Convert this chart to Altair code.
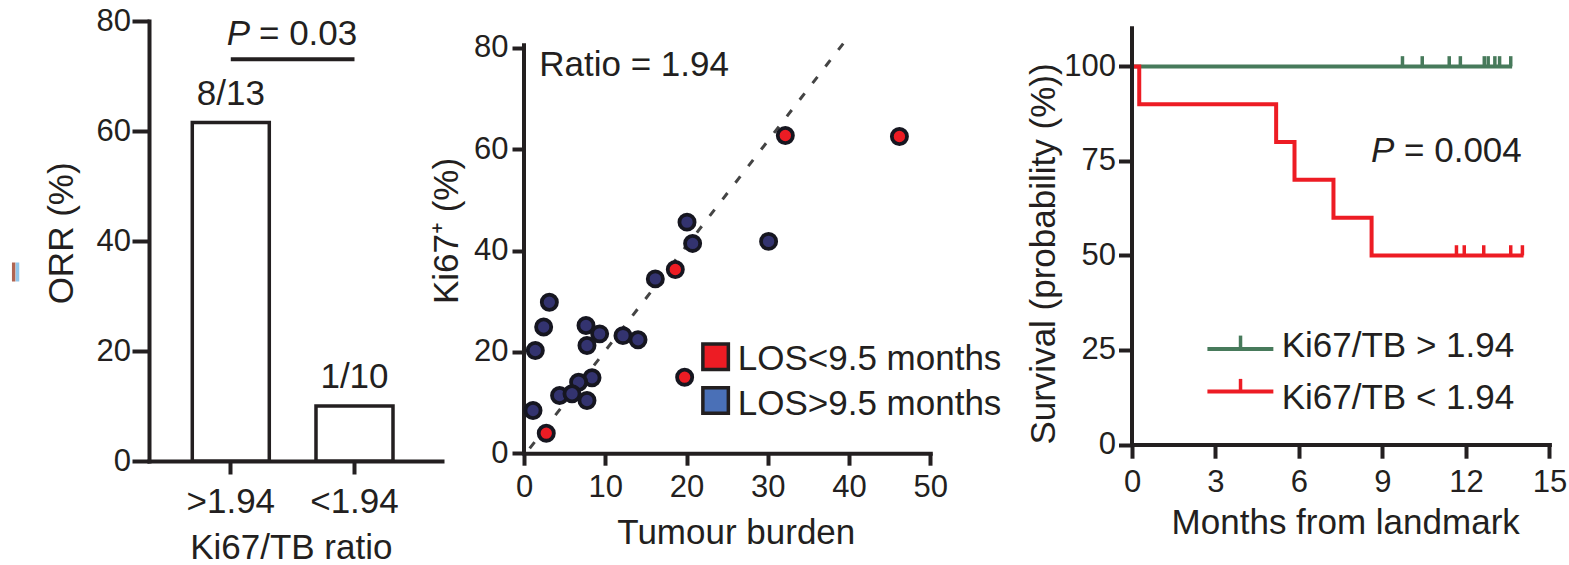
import altair as alt
import pandas as pd

INK = "#231f20"
FONT = "Liberation Sans"
RED = "#ed1c24"
GREEN = "#477a5b"
NAVY = "#33336f"
SWATCH_BLUE = "#4a70b7"

# ---------------- panel a: objective response by Ki67/TB ratio ----------------
orr_group = [">1.94", "<1.94"]
orr_resp = [8, 1]
orr_total = [13, 10]

# ---------------- panel b: Ki67+ against tumour burden ----------------
tb_burden = [32.16, 46.2, 18.62, 19.77, 2.74,
             20.06, 20.75, 30.1, 16.16, 3.12, 2.42, 1.39, 7.63, 9.31, 7.75,
             12.18, 14.03, 8.37, 6.72, 4.38, 5.91, 7.75, 1.11]
tb_ki67 = [62.7, 62.5, 36.25, 15.0, 3.95,
           45.6, 41.4, 41.8, 34.4, 29.8, 24.9, 20.27, 25.2, 23.55, 21.25,
           23.2, 22.4, 14.88, 14.01, 11.39, 11.72, 10.4, 8.43]
tb_los = ["LOS<9.5 months"] * 5 + ["LOS>9.5 months"] * 18
los_levels = ["LOS<9.5 months", "LOS>9.5 months"]
fit_burden = [0.7, 39.7]
fit_ki67 = [0.95, 81.7]

# ---------------- panel c: survival from landmark ----------------
arm_levels = ["Ki67/TB > 1.94", "Ki67/TB < 1.94"]
km_hi_t = [0.0, 13.66]
km_hi_s = [100, 100]
km_lo_t = [0.0, 0.26, 5.18, 5.84, 7.24, 8.61, 14.07]
km_lo_s = [100, 90, 80, 70, 60, 50, 50]
cens_hi_t = [9.72, 10.43, 11.40, 11.80, 12.66, 12.80, 13.04, 13.21, 13.61]
cens_lo_t = [11.66, 11.94, 12.64, 13.61, 14.03]

# ---------------- layout ----------------
W1, H1 = 293, 440
W2, H2 = 406.3, 432.2
W3, H3 = 417.4, 423.5
GAP1, GAP2 = 81.7, 200.6
Y2_TOP = 85.29
Y3_TOP = 112.0

one = pd.DataFrame({"k": [0]})

# ===== panel a =====
orr = pd.DataFrame({"group": orr_group, "resp": orr_resp, "total": orr_total})
orr["pct"] = 100 * orr["resp"] / orr["total"]
orr["label"] = orr["resp"].astype(str) + "/" + orr["total"].astype(str)

xa = alt.Scale(domain=orr_group, paddingInner=0.3775, paddingOuter=0.373, align=0.469)
ya = alt.Scale(domain=[0, 80], nice=False)
ax_xa = alt.Axis(title="Ki67/TB ratio", labelAngle=0, labelFontSize=35, tickSize=13,
                 labelPadding=38.5, labelBaseline="alphabetic",
                 titleX=141.8, titleY=97.5, titleBaseline="alphabetic", titleAlign="center")
ax_ya = alt.Axis(title="ORR (%)", values=[0, 20, 40, 60, 80], tickSize=17,
                 labelPadding=1.5, titleAngle=270, titleX=-77, titleY=211.9,
                 titleBaseline="alphabetic", titleAlign="center")


def xA():
    return alt.X("group:N", sort=orr_group, scale=xa, axis=ax_xa)


def yA(field):
    return alt.Y(field, type="quantitative", scale=ya, axis=ax_ya)


bars = alt.Chart(orr).mark_bar(fill="white", stroke=INK, strokeWidth=3.5).encode(
    x=xA(), y=yA("pct"))

count_text = alt.Chart(orr).mark_text(
    font=FONT, fontSize=35, color=INK, baseline="alphabetic", dy=-18
).encode(x=xA(), y=yA("pct"), text="label:N")

P_BAR_Y = 73.05
P_TEXT_Y = 75.7
bracket = alt.Chart(pd.DataFrame({"group": orr_group, "pct": [P_BAR_Y, P_BAR_Y]})).mark_line(
    color=INK, strokeWidth=4
).encode(x=xA(), y=yA("pct"))

p_row = pd.DataFrame({"group": [orr_group[0]], "pct": [P_TEXT_Y]})
p_a1 = alt.Chart(p_row).mark_text(
    text="P", font=FONT, fontSize=35, fontStyle="italic", color=INK,
    align="left", baseline="alphabetic", dx=-4
).encode(x=xA(), y=yA("pct"))
p_a2 = alt.Chart(p_row).mark_text(
    text="= 0.03", font=FONT, fontSize=35, color=INK,
    align="left", baseline="alphabetic", dx=28.2
).encode(x=xA(), y=yA("pct"))

# clipped glyph at the left edge of the figure
frag_a = alt.Chart(one).mark_rule(color="#b06552", strokeWidth=3.5).encode(
    x=alt.value(-135.3), y=alt.value(241.5), y2=alt.value(260.5))
frag_b = alt.Chart(one).mark_rule(color="#92c6ea", strokeWidth=3.5).encode(
    x=alt.value(-131.5), y=alt.value(241.5), y2=alt.value(260.5))
# corner marker that pins the figure origin
corner = alt.Chart(one).mark_rule(color="white", strokeWidth=0.5).encode(
    x=alt.value(-148.75), x2=alt.value(-148.25), y=alt.value(-20.25))

panel_a = alt.layer(bars, count_text, bracket, p_a1, p_a2, frag_a, frag_b, corner).properties(
    width=W1, height=H1)

# ===== panel b =====
tb = pd.DataFrame({"burden": tb_burden, "ki67": tb_ki67, "los": tb_los})
xb = alt.Scale(domain=[0, 50], nice=False)
yb = alt.Scale(domain=[0, Y2_TOP], nice=False)
ax_xb = alt.Axis(title="Tumour burden", values=[0, 10, 20, 30, 40, 50], tickSize=12,
                 labelPadding=31.3, labelBaseline="alphabetic",
                 titleX=211.8, titleY=90.3, titleBaseline="alphabetic", titleAlign="center")
ax_yb = alt.Axis(title="Ki67⁺ (%)", values=[0, 20, 40, 60, 80], domain=False,
                 tickSize=12, labelPadding=4, titleAngle=270, titleX=-66.7,
                 titleY=209.5, titleBaseline="alphabetic", titleAlign="center")


def xB(field):
    return alt.X(field, type="quantitative", scale=xb, axis=ax_xb)


def yB(field):
    return alt.Y(field, type="quantitative", scale=yb, axis=ax_yb)


fit = pd.DataFrame({"burden": fit_burden, "ki67": fit_ki67})
fit_line = alt.Chart(fit).mark_line(color="#444444", strokeWidth=3, strokeDash=[8, 13]).encode(
    x=xB("burden"), y=yB("ki67"))

yaxis_b = alt.Chart(pd.DataFrame({"burden": [0], "ki67": [0], "hi": [80.5]})).mark_rule(
    color=INK, strokeWidth=4, strokeCap="square"
).encode(x=xB("burden"), y=yB("ki67"), y2="hi:Q")

points = alt.Chart(tb).mark_circle(size=230, stroke="#161620", strokeWidth=3.8, opacity=1).encode(
    x=xB("burden"), y=yB("ki67"),
    color=alt.Color("los:N", scale=alt.Scale(domain=los_levels, range=[RED, NAVY]), legend=None),
)

ratio_text = alt.Chart(pd.DataFrame({"burden": [1.87], "ki67": [74.34]})).mark_text(
    text="Ratio = 1.94", font=FONT, fontSize=35, color=INK, align="left", baseline="alphabetic"
).encode(x=xB("burden"), y=yB("ki67"))

leg_b_sq = alt.Chart(pd.DataFrame({"label": los_levels, "burden": [23.58, 23.58],
                                   "ki67": [19.02, 10.4]})).mark_square(
    size=650, stroke=INK, strokeWidth=3.5, opacity=1
).encode(
    x=xB("burden"), y=yB("ki67"),
    fill=alt.Fill("label:N", scale=alt.Scale(domain=los_levels, range=[RED, SWATCH_BLUE]),
                  legend=None),
)
leg_b_tx = alt.Chart(pd.DataFrame({"label": los_levels, "burden": [26.3, 26.3],
                                   "ki67": [16.5, 7.5]})).mark_text(
    font=FONT, fontSize=35, color=INK, align="left", baseline="alphabetic"
).encode(x=xB("burden"), y=yB("ki67"), text="label:N")

panel_b = alt.layer(fit_line, yaxis_b, points, ratio_text, leg_b_sq, leg_b_tx).properties(
    width=W2, height=H2)

# ===== panel c =====
xc = alt.Scale(domain=[0, 15], nice=False)
yc = alt.Scale(domain=[0, Y3_TOP], nice=False)
arm_color = alt.Scale(domain=arm_levels, range=[GREEN, RED])
ax_xc = alt.Axis(title="Months from landmark", values=[0, 3, 6, 9, 12, 15], tickSize=13.7,
                 labelPadding=33.3, labelBaseline="alphabetic",
                 titleX=213.2, titleY=89, titleBaseline="alphabetic", titleAlign="center")
ax_yc = alt.Axis(title="Survival (probability (%))", values=[0, 25, 50, 75, 100],
                 domain=False, tickSize=13.5, labelPadding=3, titleAngle=270,
                 titleX=-77.6, titleY=232.5, titleBaseline="alphabetic", titleAlign="center")


def xC(field):
    return alt.X(field, type="quantitative", scale=xc, axis=ax_xc)


def yC(field):
    return alt.Y(field, type="quantitative", scale=yc, axis=ax_yc)


def armC():
    return alt.Stroke("arm:N", scale=arm_color, legend=None)


km = pd.DataFrame({
    "arm": [arm_levels[0]] * len(km_hi_t) + [arm_levels[1]] * len(km_lo_t),
    "t": km_hi_t + km_lo_t,
    "s": km_hi_s + km_lo_s,
})
km_lines = alt.Chart(km).mark_line(interpolate="step-after", strokeWidth=4).encode(
    x=xC("t"), y=yC("s"), stroke=armC(), detail="arm:N")

CENSOR_H = 2.7
cens = pd.DataFrame({
    "arm": [arm_levels[0]] * len(cens_hi_t) + [arm_levels[1]] * len(cens_lo_t),
    "t": cens_hi_t + cens_lo_t,
    "s": [km_hi_s[-1]] * len(cens_hi_t) + [km_lo_s[-1]] * len(cens_lo_t),
})
cens_ticks = alt.Chart(cens).transform_calculate(top=f"datum.s + {CENSOR_H}").mark_rule(
    strokeWidth=3.5
).encode(x=xC("t"), y=yC("s"), y2="top:Q", stroke=armC())

yaxis_c = alt.Chart(pd.DataFrame({"t": [0], "s": [0], "hi": [110.07]})).mark_rule(
    color=INK, strokeWidth=4, strokeCap="square"
).encode(x=xC("t"), y=yC("s"), y2="hi:Q")

p_row_c = pd.DataFrame({"t": [8.59], "s": [74.7]})
p_c1 = alt.Chart(p_row_c).mark_text(
    text="P", font=FONT, fontSize=35, fontStyle="italic", color=INK,
    align="left", baseline="alphabetic"
).encode(x=xC("t"), y=yC("s"))
p_c2 = alt.Chart(p_row_c).mark_text(
    text="= 0.004", font=FONT, fontSize=35, color=INK,
    align="left", baseline="alphabetic", dx=33
).encode(x=xC("t"), y=yC("s"))

leg_c = pd.DataFrame({"arm": arm_levels, "t": [2.71, 2.71], "t_end": [5.08, 5.08],
                      "s": [25.26, 14.02]})
leg_c_line = alt.Chart(leg_c).mark_rule(strokeWidth=4).encode(
    x=xC("t"), x2="t_end:Q", y=yC("s"), stroke=armC())
leg_c_tick = alt.Chart(pd.DataFrame({"arm": arm_levels, "t": [3.90, 3.90], "s": [25.26, 14.02],
                                     "top": [28.8, 17.35]})).mark_rule(strokeWidth=3.5).encode(
    x=xC("t"), y=yC("s"), y2="top:Q", stroke=armC())
leg_c_text = alt.Chart(pd.DataFrame({"arm": arm_levels, "t": [5.38, 5.38],
                                     "s": [23.14, 9.52]})).mark_text(
    font=FONT, fontSize=35, color=INK, align="left", baseline="alphabetic"
).encode(x=xC("t"), y=yC("s"), text="arm:N")

panel_c = alt.layer(km_lines, cens_ticks, yaxis_c, p_c1, p_c2,
                    leg_c_line, leg_c_tick, leg_c_text).properties(width=W3, height=H3)


def gap(w):
    return alt.Chart(one).mark_point(opacity=0).encode(
        x=alt.value(0), y=alt.value(0)).properties(width=w, height=10)


chart = alt.hconcat(
    panel_a, gap(GAP1), panel_b, gap(GAP2), panel_c, spacing=0, bounds="flush"
).resolve_scale(
    color="independent", fill="independent", stroke="independent"
).properties(padding=0).configure_view(stroke=None).configure_axis(
    grid=False,
    domainColor=INK, domainWidth=4, domainCap="square",
    tickColor=INK, tickWidth=4,
    labelColor=INK, labelFont=FONT, labelFontSize=31, labelFlush=False, labelOverlap=False,
    titleColor=INK, titleFont=FONT, titleFontSize=35, titleFontWeight="normal",
)

chart.save("out.html", embed_options={"renderer": "svg", "actions": False})
